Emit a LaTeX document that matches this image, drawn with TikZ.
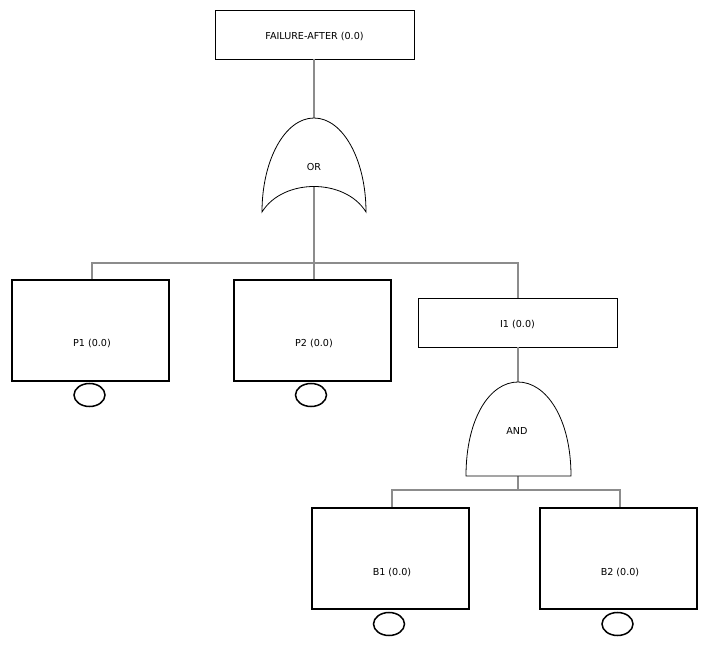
\documentclass[tikz,border=0pt]{standalone}
\usepackage{fontspec}
\setmainfont{DejaVu Sans}
\usetikzlibrary{shapes.geometric}
\begin{document}
\begin{tikzpicture}[x=1pt,y=-1pt,
  font=\fontsize{9.6}{11}\selectfont,
  thinbox/.style={draw=black,line width=0.8pt,minimum width=199pt,minimum height=49pt,inner sep=0pt},
  thickbox/.style={draw=black,line width=2pt,minimum width=157pt,minimum height=101pt,inner sep=0pt},
  gateline/.style={draw=black,line width=0.8pt},
  conn/.style={draw=gray!90,line width=2pt},
  basic/.style={ellipse,draw=black,line width=1.5pt,minimum width=31pt,minimum height=23pt,inner sep=0pt}]
\useasboundingbox (0,0) rectangle (713,647);
\fill[white] (0,0) rectangle (713,647);

% boxes
\node[thinbox] (top) at (314.5,34.5) {};
\node (toptext) at (314.5,36) {FAILURE-AFTER (0.0)};
\node[thinbox] (i1) at (517.5,322.5) {};
\node (i1text) at (517.5,324) {I1 (0.0)};
\node[thickbox] (p1) at (90.5,330.5) {};
\node (p1text) at (92,343) {P1 (0.0)};
\node[thickbox] (p2) at (312.5,330.5) {};
\node (p2text) at (314,343) {P2 (0.0)};
\node[thickbox] (b1) at (390.5,558.5) {};
\node (b1text) at (392,572) {B1 (0.0)};
\node[thickbox] (b2) at (618.5,558.5) {};
\node (b2text) at (620,572) {B2 (0.0)};

% basic event circles
\node[basic] (c1) at (89.5,395) {};
\node[basic] (c2) at (311,395) {};
\node[basic] (c3) at (389,624) {};
\node[basic] (c4) at (617.5,624) {};

% gate connection points
\coordinate (orTop) at (314,118);
\coordinate (orIn) at (314,187);
\coordinate (andTop) at (518,382);
\coordinate (andBot) at (518,476);
\coordinate (bus1) at (314,263);
\coordinate (bus2) at (518,490);

% connectors
\draw[conn] (top.south -| orTop) -- (orTop);
\draw[conn] (orIn) -- (p2.north -| orIn);
\draw[conn] (p1.north -| 92,0) -- (92,263) -| (i1.north -| 518,0);
\draw[conn] (i1.south -| andTop) -- (andTop);
\draw[conn] (andBot) -- (bus2);
\draw[conn] (b1.north -| 392,0) -- (392,490) -| (b2.north -| 620,0);

% OR gate
\fill[white] (262,212) .. controls (262,160) and (285,118) .. (orTop)
  .. controls (343,118) and (366,160) .. (366,212)
  .. controls (345,178) and (283,178) .. (262,212) -- cycle;
\draw[gateline] (262,212) .. controls (262,160) and (285,118) .. (orTop)
  .. controls (343,118) and (366,160) .. (366,212)
  .. controls (345,178) and (283,178) .. (262,212) -- cycle;
\draw[conn] (orIn) -- (314,212);
\node (ortext) at (314,167) {OR};

% AND gate
\draw[gateline,fill=white] (466,476) .. controls (466,418) and (490,382) .. (andTop)
  .. controls (546,382) and (571,418) .. (571,476) -- cycle;
\node (andtext) at (517,431) {AND};
\end{tikzpicture}
\end{document}
